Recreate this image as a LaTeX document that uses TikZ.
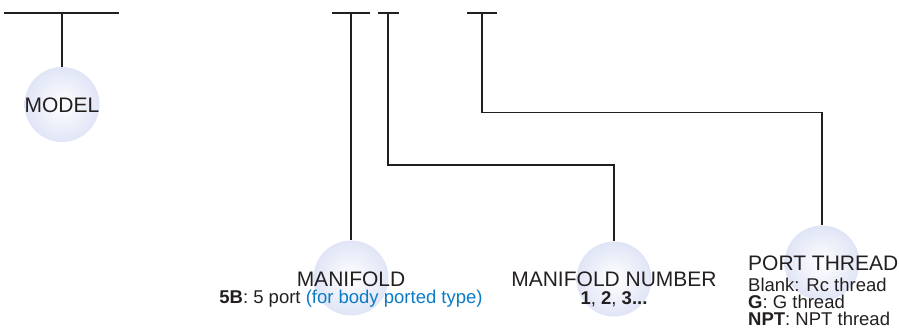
\documentclass[tikz,border=0pt]{standalone}
\usepackage{fontspec}
\setmainfont{Liberation Sans}
\definecolor{ink}{HTML}{231F20}
\definecolor{blu}{HTML}{0A7BC6}
\definecolor{ballout}{RGB}{224,229,246}
\begin{document}
\begin{tikzpicture}[x=1pt,y=-1pt,
  ball/.style={circle,minimum size=75pt,inner sep=0pt,shading=radial,inner color=white,outer color=ballout},
  lbl/.style={text=ink,font=\fontsize{21}{21}\selectfont,inner sep=0pt,anchor=base},
  sub/.style={text=ink,font=\fontsize{18.5}{18.5}\selectfont,inner sep=0pt,anchor=base},
  subl/.style={sub,anchor=base west},
  wire/.style={draw=ink,line width=1.3pt}]
\useasboundingbox (0,0) rectangle (899,333);
% balls
\node[ball] (bModel) at (62,104.5) {};
\node[ball] (bMan) at (351,278) {};
\node[ball] (bNum) at (614,279) {};
\node[ball] (bPort) at (822,263) {};
% labels
\node[lbl] (tModel) at (62,112) {MODEL};
\node[lbl] (tMan) at (351,286) {MANIFOLD};
\node[sub] (sMan) at (351,303) {\textbf{5B}: 5 port \textcolor{blu}{(for body ported type)}};
\node[lbl] (tNum) at (614,286) {MANIFOLD NUMBER};
\node[sub] (sNum) at (614,304) {\textbf{1}, \textbf{2}, \textbf{3...}};
\node[lbl,anchor=base west] (tPort) at (748,270) {PORT THREAD};
\node[subl] (sPort1) at (748,291) {Blank: Rc thread};
\node[subl] (sPort2) at (748,308) {\textbf{G}: G thread};
\node[subl] (sPort3) at (748,325) {\textbf{NPT}: NPT thread};
% bars and junctions
\coordinate (aL) at (4,13);   \coordinate (aR) at (119,13); \coordinate (aJ) at (62,13);
\coordinate (bL) at (332,13); \coordinate (bR) at (370,13); \coordinate (bJ) at (351,13);
\coordinate (cL) at (378,13); \coordinate (cR) at (399,13); \coordinate (cJ) at (388,13);
\coordinate (cK) at (388,165);
\coordinate (dL) at (467,13); \coordinate (dR) at (497,13); \coordinate (dJ) at (482,13);
\coordinate (dK) at (482,112.5);
% connectors
\draw[wire] (aL) -- (aR);
\draw[wire] (aJ) -- (bModel.north);
\draw[wire] (bL) -- (bR);
\draw[wire] (bJ) -- (bMan.north);
\draw[wire] (cL) -- (cR);
\draw[wire] (cJ) -- (cK) -| (bNum.north);
\draw[wire] (dL) -- (dR);
\draw[wire] (dJ) -- (dK) -| (bPort.north);
\end{tikzpicture}
\end{document}
